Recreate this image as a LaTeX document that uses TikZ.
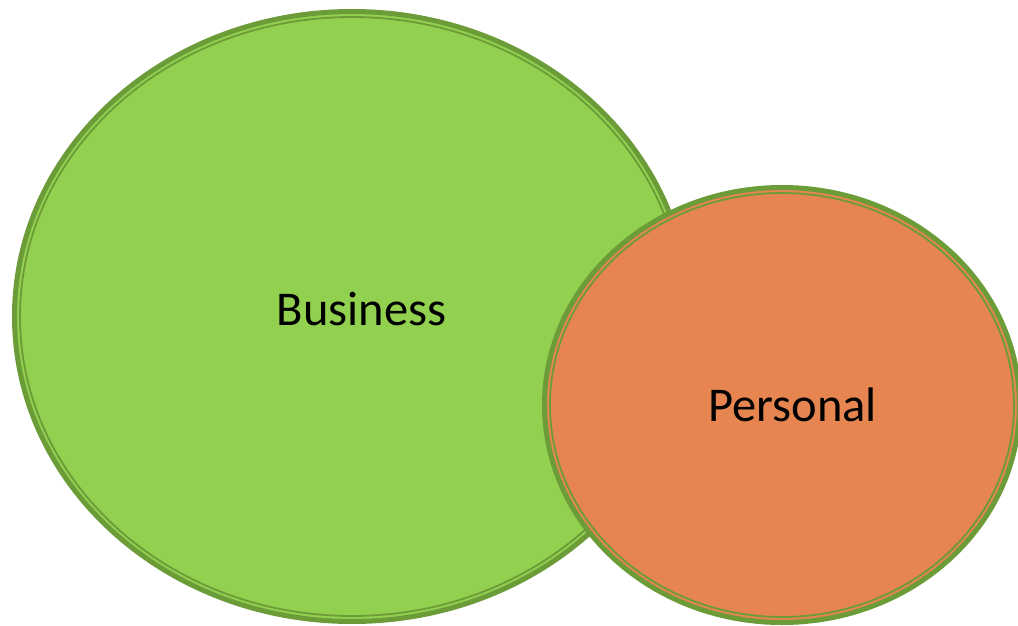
\documentclass[tikz,border=0pt]{standalone}
\usepackage{fontspec}
\setmainfont{Carlito}
\usetikzlibrary{shapes.geometric}
\definecolor{bizgreen}{RGB}{146,208,80}
\definecolor{rimgreen}{RGB}{108,156,56}
\definecolor{perorange}{RGB}{230,133,80}
\tikzset{
    blob/.style={ellipse, draw=rimgreen, line width=5pt, inner sep=0pt},
    lbl/.style={font=\fontsize{48.5}{56}\selectfont, text=black}
}
\begin{document}
\begin{tikzpicture}[x=1pt,y=1pt]

% Frame of the picture (pixel units, y upwards)
\useasboundingbox (0,0) rectangle (1018,625);
\clip (0,0) rectangle (1018,625);

% Business circle
\node[blob, fill=bizgreen, minimum width=675pt, minimum height=610pt] (biz) at (352,308.5) {};
\draw[rimgreen, line width=1.8pt] (biz.center) ellipse [x radius=332, y radius=299.5];

% Personal circle, on top
\node[blob, fill=perorange, minimum width=475pt, minimum height=435pt] (pers) at (782,220) {};
\draw[rimgreen, line width=1.8pt] (pers.center) ellipse [x radius=232, y radius=212];

% Labels
\node[lbl] (bizlbl) at (361.5,316) {Business};
\node[lbl] (perslbl) at (792.5,220) {Personal};

\end{tikzpicture}
\end{document}
